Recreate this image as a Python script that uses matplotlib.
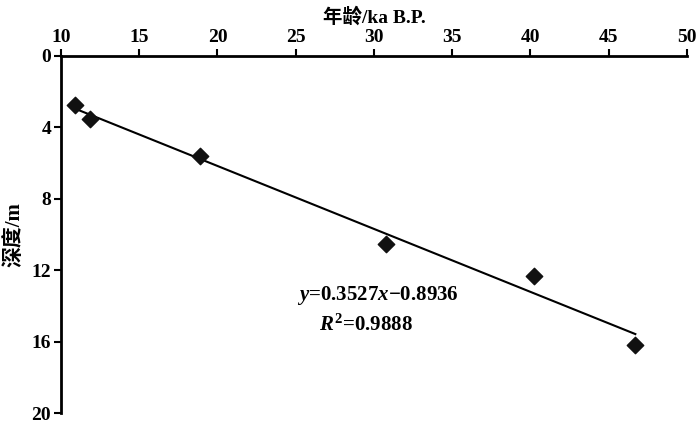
import numpy as np
import matplotlib.pyplot as plt

plt.rcParams['mathtext.fontset'] = 'custom'
plt.rcParams['mathtext.it'] = 'Liberation Serif:italic:bold'
plt.rcParams['mathtext.rm'] = 'Liberation Serif:bold'

# sample ages (ka B.P.) and depths (m)
age = [10.9, 11.85, 18.9, 30.8, 40.2, 46.7]
depth = [2.75, 3.53, 5.6, 10.53, 12.3, 16.2]

# linear fit reported on the chart
slope = 0.3527
icpt = -0.8936
r2 = 0.9888

xticks = [10, 15, 20, 25, 30, 35, 40, 45, 50]
yticks = [0, 4, 8, 12, 16, 20]

serif = 'Liberation Serif'
cjk = ['Liberation Serif', 'Noto Sans CJK SC']

fig = plt.figure(figsize=(7.0, 4.28), dpi=100)
ax = fig.add_axes([0.0871, 0.035, 0.8943, 0.8342])

ax.scatter(age, depth, marker='D', s=70, color='#111111', zorder=3)
xl = np.array([age[0], age[-1]])
ax.plot(xl, slope*xl + icpt, 'k-', lw=1.5)

ax.set_xlim(10, 50)
ax.set_ylim(20, 0)
ax.set_xticks(xticks)
ax.set_yticks(yticks)
ax.xaxis.tick_top()
ax.xaxis.set_label_position('top')
for s in ['right', 'bottom']:
    ax.spines[s].set_visible(False)
for s in ['left', 'top']:
    ax.spines[s].set_linewidth(2.0)
ax.tick_params(width=1.5, length=5, labelsize=14, pad=2)
for lab in ax.get_xticklabels() + ax.get_yticklabels():
    lab.set_family(serif)
    lab.set_fontweight('bold')

ax.set_xlabel('年龄/ka B.P.', family=cjk, fontsize=14, fontweight='bold', labelpad=5)
ax.set_ylabel('深度/m', family=cjk, fontsize=15, fontweight='bold', labelpad=5)

ax.text(25.1, 13.4, r'$\mathit{y}$=%.4f$\mathit{x}$$-$%.4f' % (slope, -icpt),
        family=serif, fontsize=15, fontweight='bold', va='center')
ax.text(26.5, 15.07, r'$\mathit{R}^{2}$=%.4f' % r2,
        family=serif, fontsize=15, fontweight='bold', va='center')

fig.savefig('out.png', dpi=100)
